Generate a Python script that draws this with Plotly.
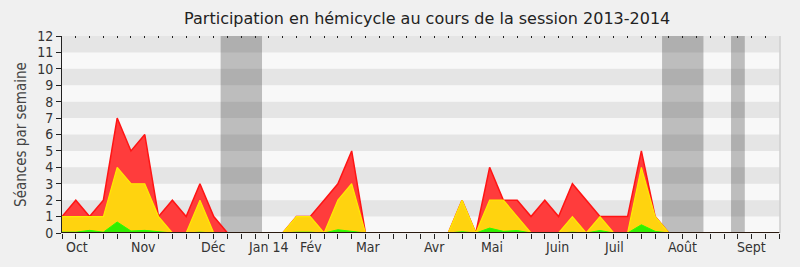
import plotly.graph_objects as go

# Weekly data, session 2013-2014 (week index 0 = first week of October)
weeks = list(range(53))
total_red = [1, 2, 1, 2, 7, 5, 6, 1, 2, 1, 3, 1, 0, 0, 0, 0, 0, 1, 1, 2, 3, 5, 0,
             0, 0, 0, 0, 0, 0, 2, 0, 4, 2, 2, 1, 2, 1, 3, 2, 1, 1, 1, 5, 1,
             0, 0, 0, 0, 0, 0, 0, 0, 0]
total_yellow = [1, 1, 1, 1, 4, 3, 3, 1, 0, 0, 2, 0, 0, 0, 0, 0, 0, 1, 1, 0, 2, 3, 0,
                0, 0, 0, 0, 0, 0, 2, 0, 2, 2, 1, 0, 0, 0, 1, 0, 1, 0, 0, 4, 1,
                0, 0, 0, 0, 0, 0, 0, 0, 0]
total_green = [0.05, 0.05, 0.16, 0.05, 0.67, 0.12, 0.16, 0.06, 0, 0, 0.05, 0, 0, 0, 0, 0, 0,
               0.05, 0.05, 0, 0.2, 0.1, 0,
               0, 0, 0, 0, 0, 0, 0.08, 0, 0.3, 0.1, 0.15, 0, 0, 0, 0.05, 0, 0.15, 0, 0, 0.5, 0.1,
               0, 0, 0, 0, 0, 0, 0, 0, 0]

month_labels = ["Oct", "Nov", "Déc", "Jan 14", "Fév", "Mar", "Avr", "Mai", "Juin", "Juil", "Août", "Sept"]
month_pos = [1.07, 5.93, 10.96, 14.95, 18.05, 22.2, 27.0, 31.2, 35.9, 40.0, 45.0, 50.0]

vacation_start = [11.5, 43.5, 48.5]
vacation_end = [14.5, 46.5, 49.5]

FONT = "DejaVu Sans Condensed, DejaVu Sans, sans-serif"

fig = go.Figure()
fig.add_trace(go.Scatter(x=weeks, y=total_red, mode="lines", fill="tozeroy",
                         line=dict(color="rgb(255,20,20)", width=1.5),
                         fillcolor="rgb(255,60,60)", hoverinfo="skip"))
fig.add_trace(go.Scatter(x=weeks, y=total_yellow, mode="lines", fill="tozeroy",
                         line=dict(color="rgb(255,235,0)", width=1.2),
                         fillcolor="rgb(255,211,15)", hoverinfo="skip"))
fig.add_trace(go.Scatter(x=weeks, y=total_green, mode="lines", fill="tozeroy",
                         line=dict(color="rgb(40,255,0)", width=1),
                         fillcolor="rgb(50,238,0)", hoverinfo="skip"))
# invisible trace for the top tick axis
fig.add_trace(go.Scatter(x=[0, 52], y=[0, 0], xaxis="x2", mode="lines",
                         line=dict(width=0), opacity=0, hoverinfo="skip"))

shapes = []
for k in range(1, 12, 2):
    shapes.append(dict(type="rect", xref="x", yref="y", x0=0, x1=52.05, y0=k, y1=k + 1,
                       fillcolor="#E5E5E5", line=dict(width=0), layer="below"))
for s, e in zip(vacation_start, vacation_end):
    shapes.append(dict(type="rect", xref="x", yref="y", x0=s, x1=e, y0=0, y1=12,
                       fillcolor="rgba(0,0,0,0.235)", line=dict(width=0), layer="below"))
# dark baseline drawn over the zero-level outlines
shapes.append(dict(type="line", xref="paper", yref="y", x0=0, x1=1, y0=0, y1=0,
                   line=dict(color="#2a1a10", width=2), layer="above"))
# right edge of plot
shapes.append(dict(type="line", xref="paper", yref="paper", x0=1, x1=1, y0=0, y1=1,
                   line=dict(color="#CFCFCF", width=1.5), layer="above"))

annotations = []
for lab, pos in zip(month_labels, month_pos):
    annotations.append(dict(x=pos, y=0, xref="x", yref="paper", text=lab, showarrow=False,
                            yanchor="top", yshift=-4, font=dict(family=FONT, size=14, color="#333")))

fig.update_layout(
    width=800, height=267,
    margin=dict(l=62, r=20, t=36, b=34),
    paper_bgcolor="#F0F0F0",
    plot_bgcolor="#F8F8F8",
    showlegend=False,
    title=dict(text="Participation en hémicycle au cours de la session 2013-2014",
               x=0.534, xanchor="center", y=0.93, yanchor="middle",
               font=dict(family="DejaVu Sans, sans-serif", size=16, color="#222")),
    font=dict(family=FONT, size=14, color="#333"),
    xaxis=dict(range=[0, 52.05], tickvals=weeks, showticklabels=False, ticks="outside",
               ticklen=5, tickcolor="#222", showgrid=False, zeroline=False,
               showline=False, fixedrange=True),
    xaxis2=dict(range=[0, 52.05], overlaying="x", side="top", anchor="y", tickvals=weeks,
                showticklabels=False, ticks="inside", ticklen=2, tickcolor="#222",
                showgrid=False, zeroline=False, showline=False),
    yaxis=dict(range=[0, 12], tickvals=list(range(13)), ticks="outside", ticklen=5,
               tickcolor="#222", showgrid=False, zeroline=False, showline=True,
               linecolor="#222", linewidth=1, tickfont=dict(size=14, color="#333"),
               title=dict(text="Séances par semaine", font=dict(size=15, color="#444"), standoff=6)),
    shapes=shapes,
    annotations=annotations,
)

fig.write_html("out.html")
